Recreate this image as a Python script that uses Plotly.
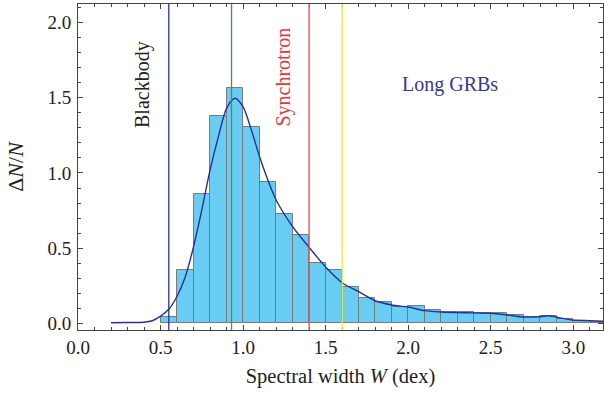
import plotly.graph_objects as go

# ---- data ----
bin_left = [0.5, 0.6, 0.7, 0.8, 0.9, 1.0, 1.1, 1.2, 1.3, 1.4, 1.5, 1.6, 1.7, 1.8,
            1.9, 2.0, 2.1, 2.2, 2.3, 2.4, 2.5, 2.6, 2.7, 2.8, 2.9, 3.0, 3.1]
bin_width = 0.1
bar_values = [0.045, 0.353, 0.86, 1.377, 1.566, 1.308, 0.942, 0.725, 0.587, 0.403,
              0.353, 0.24, 0.166, 0.144, 0.11, 0.115, 0.088, 0.077, 0.073, 0.071,
              0.067, 0.055, 0.04, 0.05, 0.027, 0.017, 0.01]

curve_x = [0.2, 0.3, 0.4, 0.45, 0.5, 0.55, 0.6, 0.65, 0.7, 0.75, 0.8, 0.85, 0.9, 0.95,
           1.0, 1.05, 1.1, 1.15, 1.2, 1.3, 1.4, 1.5, 1.6, 1.7, 1.8, 1.9, 2.0, 2.1,
           2.2, 2.3, 2.4, 2.5, 2.6, 2.7, 2.8, 2.85, 2.9, 3.0, 3.1, 3.2]
curve_y = [0.004, 0.005, 0.007, 0.017, 0.048, 0.093, 0.18, 0.31, 0.51, 0.754, 1.02,
           1.24, 1.43, 1.497, 1.44, 1.286, 1.108, 0.953, 0.82, 0.643, 0.505, 0.375,
           0.27, 0.21, 0.15, 0.122, 0.108, 0.084, 0.075, 0.071, 0.069, 0.067, 0.055,
           0.042, 0.044, 0.05, 0.04, 0.022, 0.018, 0.013]

vline_x = [0.55, 0.93, 1.40, 1.60]
vline_colors = ["#27378f", "#3c9c3c", "#ee4a4a", "#f3e832"]

labels = ["Blackbody", "Synchrotron", "Long GRBs"]
label_x = [0.392, 1.242, 2.255]
label_y = [1.59, 1.635, 1.59]
label_angle = [-90, -90, 0]
label_colors = ["#222222", "#e8343a", "#33399a"]

x_ticks = [0.0, 0.5, 1.0, 1.5, 2.0, 2.5, 3.0]
y_ticks = [0.0, 0.5, 1.0, 1.5, 2.0]

FONT = "Liberation Serif"

fig = go.Figure()
fig.add_trace(go.Bar(
    x=[b + bin_width / 2 for b in bin_left], y=bar_values, width=bin_width,
    marker=dict(color="#69cdf3", line=dict(color="#7a7a7a", width=1)),
    hoverinfo="skip"))

for xv, c in zip(vline_x, vline_colors):
    fig.add_shape(type="line", xref="x", yref="paper", x0=xv, x1=xv, y0=0, y1=1,
                  line=dict(color=c, width=1.3), layer="above")

fig.add_trace(go.Scatter(x=curve_x, y=curve_y, mode="lines",
                         line=dict(color="#2a2f95", width=1.4, shape="spline", smoothing=0.8),
                         hoverinfo="skip"))

for t, xv, yv, a, c in zip(labels, label_x, label_y, label_angle, label_colors):
    fig.add_annotation(x=xv, y=yv, text=t, textangle=a, showarrow=False,
                       font=dict(family=FONT, size=20, color=c))

axis_common = dict(showline=True, linecolor="#444444", linewidth=1, mirror="allticks",
                   ticks="inside", ticklen=5, tickwidth=1, tickcolor="#444444",
                   showgrid=False, zeroline=False,
                   tickfont=dict(family=FONT, size=19, color="#222222"),
                   minor=dict(dtick=0.1, ticks="inside", ticklen=3, tickcolor="#444444",
                              showgrid=False))

fig.update_xaxes(range=[0, 3.18], tickvals=x_ticks, ticktext=[f"{v:.1f}" for v in x_ticks],
                 title=dict(text="Spectral width <i>W</i> (dex)",
                            font=dict(family=FONT, size=20.5, color="#222222"), standoff=11),
                 **axis_common)
fig.update_yaxes(range=[-0.0446, 2.124], tickvals=y_ticks, ticktext=[f"{v:.1f}" for v in y_ticks],
                 ticklabelstandoff=2,
                 title=dict(text="Δ<i>N</i>/<i>N</i>",
                            font=dict(family=FONT, size=22, color="#222222"), standoff=17),
                 **axis_common)

fig.update_layout(width=604, height=394, margin=dict(l=78, r=1, t=4, b=64),
                  paper_bgcolor="white", plot_bgcolor="white", showlegend=False,
                  bargap=0)

fig.write_html("out.html")
